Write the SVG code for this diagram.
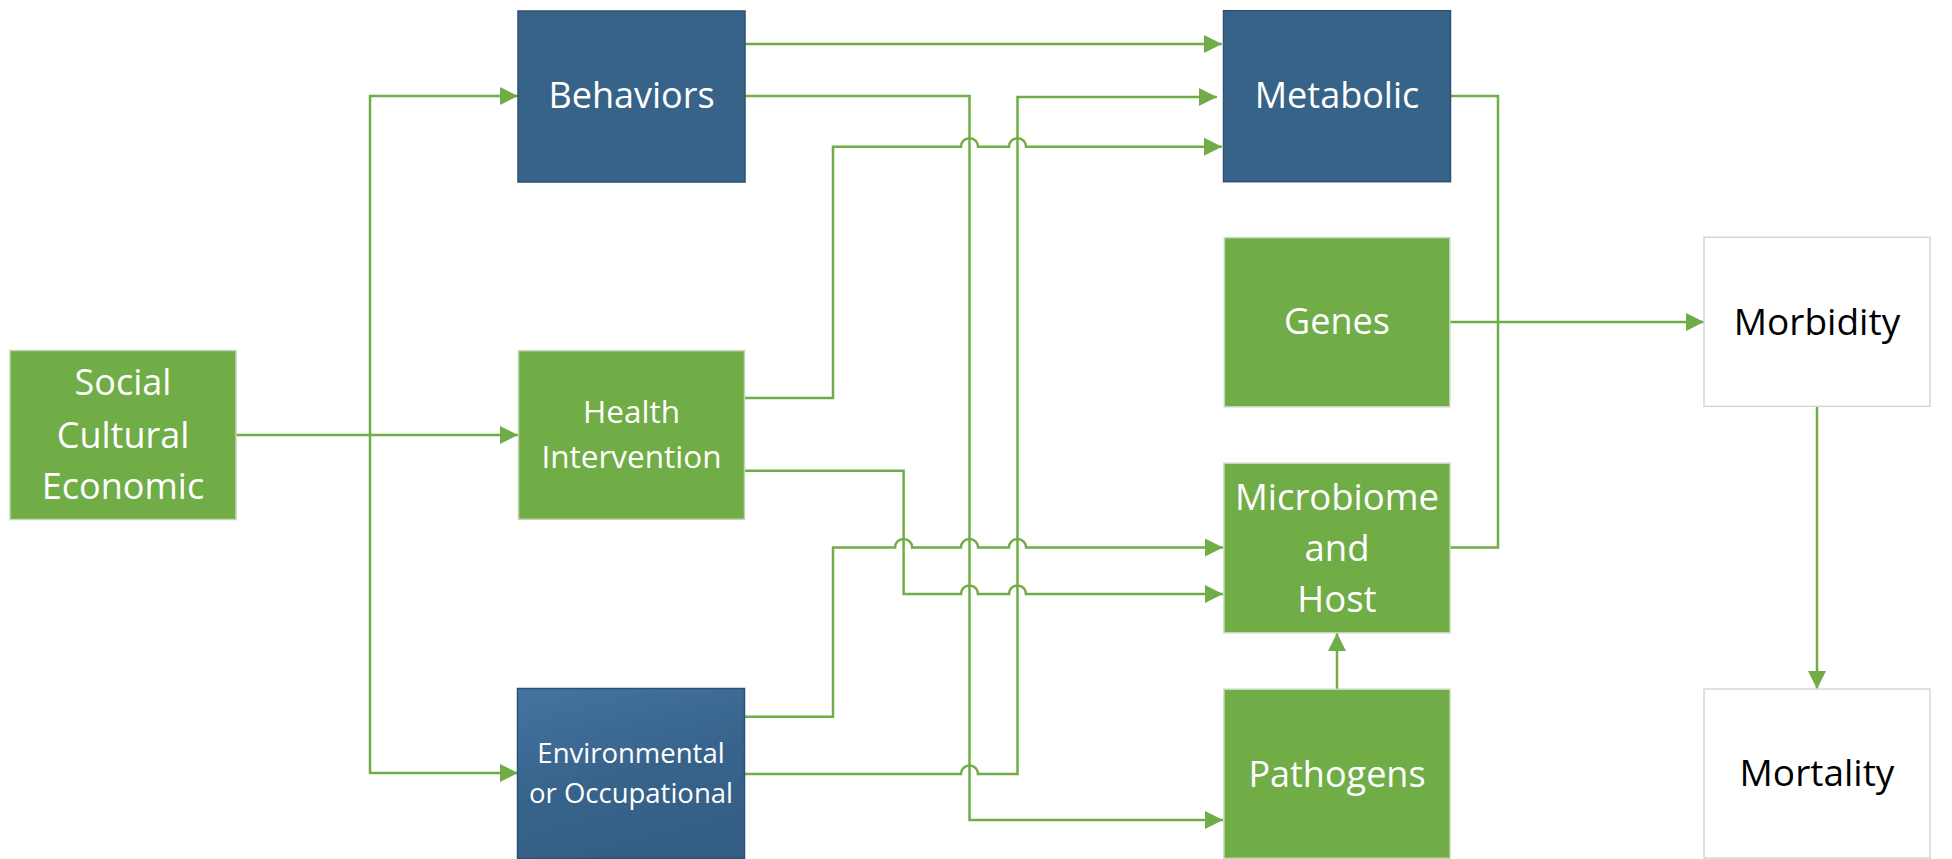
<svg xmlns="http://www.w3.org/2000/svg" width="1952" height="859" viewBox="0 0 1952 859">
<defs>
<linearGradient id="envGrad" x1="0" y1="0" x2="0.35" y2="1">
<stop offset="0" stop-color="#4574A2"/>
<stop offset="0.6" stop-color="#37638B"/>
<stop offset="1" stop-color="#355E86"/>
</linearGradient>
<marker id="arr" markerUnits="userSpaceOnUse" markerWidth="18" markerHeight="18" refX="18" refY="9" orient="auto">
<path d="M0,0 L18,9 L0,18 z" fill="#70AD47"/>
</marker>
<style>
.green{fill:#70AD47;stroke:#C3D6B8;stroke-width:1.5}
.blue{fill:#376388;stroke:#2E5073;stroke-width:1.5}
.env{fill:url(#envGrad);stroke:#2E5073;stroke-width:1.5}
.white{fill:#FFFFFF;stroke:#D6D6D6;stroke-width:1.5}
.lbl{font-family:"Open Sans","Noto Sans",sans-serif;fill:#FFFFFF;text-anchor:middle}
.dark{fill:#000000}
.con{fill:none;stroke:#70AD47;stroke-width:2.5}
.arrow{marker-end:url(#arr)}
</style>
</defs>
<rect width="1952" height="859" fill="#FFFFFF"/>

<g id="connectors">
<path class="con arrow" d="M236,435 H518"/>
<path class="con arrow" d="M370,435 V96 H518"/>
<path class="con arrow" d="M370,435 V773 H518"/>
<path class="con arrow" d="M745,44 H1222"/>
<path class="con arrow" d="M745,96 H969.5 V820 H1223"/>
<path class="con arrow" d="M745,398 H833 V146.7 H961 A8.5,8.5 0 0 1 978,146.7 H1009 A8.5,8.5 0 0 1 1026,146.7 H1222"/>
<path class="con arrow" d="M745,470.7 H903.6 V594 H961 A8.5,8.5 0 0 1 978,594 H1009 A8.5,8.5 0 0 1 1026,594 H1223"/>
<path class="con arrow" d="M745,716.7 H833 V547.5 H895.1 A8.5,8.5 0 0 1 912.1,547.5 H961 A8.5,8.5 0 0 1 978,547.5 H1009 A8.5,8.5 0 0 1 1026,547.5 H1223"/>
<path class="con arrow" d="M745,774 H961 A8.5,8.5 0 0 1 978,774 H1017.5 V97 H1217"/>
<path class="con" d="M1450.5,96 H1498 V547.5 H1450"/>
<path class="con arrow" d="M1450,322 H1704"/>
<path class="con arrow" d="M1337,689 V633"/>
<path class="con arrow" d="M1817,406.5 V689"/>
</g>

<g id="social">
<rect class="green" x="10" y="350.5" width="226" height="169"/>
<text class="lbl" font-size="36" x="123" y="395">Social</text>
<text class="lbl" font-size="36" x="123" y="448">Cultural</text>
<text class="lbl" font-size="36" x="123" y="498.5">Economic</text>
</g>

<g id="behaviors">
<rect class="blue" x="518" y="11" width="227" height="171"/>
<text class="lbl" font-size="36" x="631.5" y="108">Behaviors</text>
</g>

<g id="health">
<rect class="green" x="518.5" y="350.7" width="226" height="168.6"/>
<text class="lbl" font-size="31.5" x="631.5" y="423.3">Health</text>
<text class="lbl" font-size="31.5" x="631.5" y="468.3">Intervention</text>
</g>

<g id="environmental">
<rect class="env" x="517.5" y="688.5" width="227" height="170"/>
<text class="lbl" font-size="27.5" x="631" y="763.3">Environmental</text>
<text class="lbl" font-size="27.5" x="631" y="802.7">or Occupational</text>
</g>

<g id="metabolic">
<rect class="blue" x="1223.5" y="10.7" width="227" height="171"/>
<text class="lbl" font-size="36" x="1337" y="108.3">Metabolic</text>
</g>

<g id="genes">
<rect class="green" x="1224.4" y="237.7" width="225.4" height="169"/>
<text class="lbl" font-size="36" x="1337" y="334.3">Genes</text>
</g>

<g id="microbiome">
<rect class="green" x="1224" y="463.3" width="226" height="169.4"/>
<text class="lbl" font-size="36.5" x="1337" y="510">Microbiome</text>
<text class="lbl" font-size="36.5" x="1337" y="560.7">and</text>
<text class="lbl" font-size="36.5" x="1337" y="611.7">Host</text>
</g>

<g id="pathogens">
<rect class="green" x="1224" y="689.3" width="226" height="169"/>
<text class="lbl" font-size="36" x="1337" y="786.7">Pathogens</text>
</g>

<g id="morbidity">
<rect class="white" x="1704" y="237.3" width="226" height="169"/>
<text class="lbl dark" font-size="37" x="1817" y="335">Morbidity</text>
</g>

<g id="mortality">
<rect class="white" x="1704" y="689" width="226" height="169"/>
<text class="lbl dark" font-size="37" x="1817" y="786">Mortality</text>
</g>
</svg>
